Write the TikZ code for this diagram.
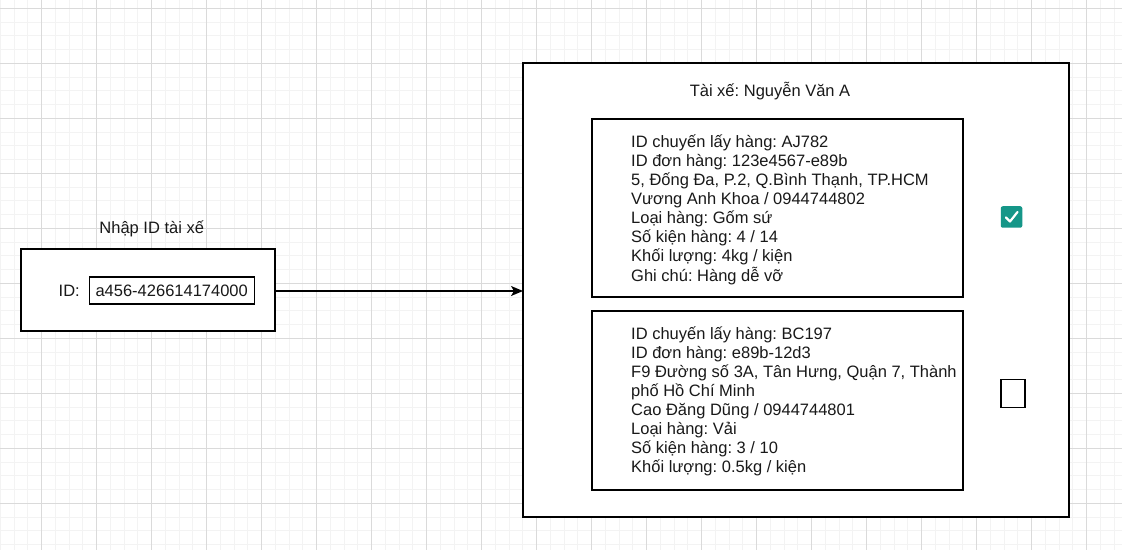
\documentclass[tikz,border=0pt]{standalone}
\usepackage{fontspec}
\setmainfont{Liberation Sans}
\usetikzlibrary{arrows.meta}
\definecolor{minorgrid}{RGB}{243,243,243}
\definecolor{majorgrid}{RGB}{218,218,218}
\definecolor{teal}{RGB}{21,150,136}
\tikzset{
  box/.style={draw=black, line width=1.4bp, fill=white},
  lbl/.style={font=\fontsize{16.5bp}{19.1bp}\selectfont\frenchspacing, inner sep=0pt, text=black!90},
  cardtext/.style={lbl, align=left, anchor=west},
  conn/.style={line width=1.4bp, -{Stealth[length=12bp,width=10bp,inset=3bp]}},
}
\begin{document}
\begin{tikzpicture}[x=1bp,y=-1bp]
\useasboundingbox (0,0) rectangle (1122,550);
\fill[white] (0,0) rectangle (1122,550);
\begin{scope}
\clip (0,0) rectangle (1122,550);
\foreach \i in {0,...,82} {\draw[minorgrid, line width=1bp] ({0.25+13.75*\i},0) -- ({0.25+13.75*\i},550);}
\foreach \i in {-1,...,40} {\draw[minorgrid, line width=1bp] (0,{8.3+13.75*\i}) -- (1122,{8.3+13.75*\i});}
\foreach \i in {0,...,20} {\draw[majorgrid, line width=1bp] ({41.5+55*\i},0) -- ({41.5+55*\i},550);}
\foreach \i in {0,...,10} {\draw[majorgrid, line width=1bp] (0,{8.3+55*\i}) -- (1122,{8.3+55*\i});}
\end{scope}

% left input box
\draw[box] (21,249) rectangle (275,331);
\coordinate (inR) at (275,291);
\node[lbl] (inTitle) at (151.7,228.5) {Nhập ID tài xế};
\node[lbl, anchor=east] (idLbl) at (80,290.5) {ID:};
\node[draw=black, line width=1.2bp, minimum width=165bp, minimum height=27bp, inner sep=0pt] (idBox) at (171.7,290.5) {};
\node[lbl] (idVal) at (idBox.center) {a456-426614174000};

% big box
\draw[box] (523,63) rectangle (1069,517);
\coordinate (bigL) at (523,291);
\node[lbl] (driver) at (770,91.5) {Tài xế: Nguyễn Văn A};

\draw[box] (592,119) rectangle (963,297);
\node[cardtext] (card1) at (631,209.6) {ID chuyến lấy hàng: AJ782\\ID đơn hàng: 123e4567-e89b\\5, Đống Đa, P.2, Q.Bình Thạnh, TP.HCM\\Vương Anh Khoa / 0944744802\\Loại hàng: Gốm sứ\\Số kiện hàng: 4 / 14\\Khối lượng: 4kg / kiện\\Ghi chú: Hàng dễ vỡ};

\draw[box] (592,311) rectangle (963,490);
\node[cardtext] (card2) at (631,401.3) {ID chuyến lấy hàng: BC197\\ID đơn hàng: e89b-12d3\\F9 Đường số 3A, Tân Hưng, Quận 7, Thành\\phố Hồ Chí Minh\\Cao Đăng Dũng / 0944744801\\Loại hàng: Vải\\Số kiện hàng: 3 / 10\\Khối lượng: 0.5kg / kiện};

% checkboxes
\node[fill=teal, rounded corners=2bp, minimum size=21.5bp, inner sep=0pt] (chk1) at (1011.5,217) {};
\draw[white, line width=2.2bp, line cap=round, line join=round] ([shift={(-5.5,0.5)}]chk1.center) -- ([shift={(-1.5,4.5)}]chk1.center) -- ([shift={(6,-5)}]chk1.center);
\node[draw=black, line width=1.4bp, fill=white, minimum width=24bp, minimum height=28bp, inner sep=0pt] (chk2) at (1013,393.7) {};

% connector
\draw[conn] (inR) -- (bigL);
\end{tikzpicture}
\end{document}
